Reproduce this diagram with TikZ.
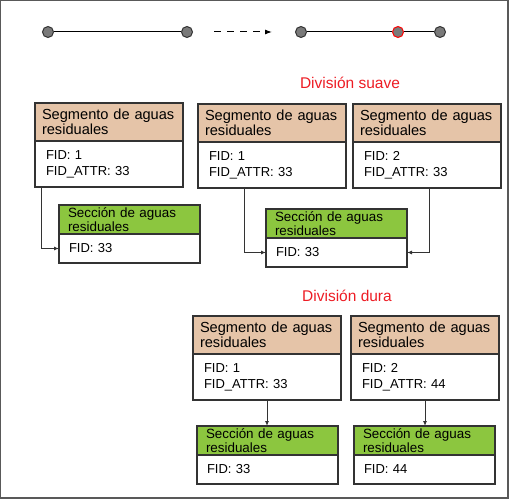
\documentclass[tikz,border=0pt]{standalone}
\usepackage{fontspec}
\setmainfont{Liberation Sans}
\usetikzlibrary{arrows.meta,positioning,calc}
\definecolor{segtan}{HTML}{E5C4A8}
\definecolor{secgreen}{HTML}{8CC63F}
\definecolor{boxline}{HTML}{333333}
\definecolor{vtxgray}{HTML}{7A7A7A}
\definecolor{titlered}{HTML}{ED1C24}

\begin{document}
\begin{tikzpicture}[x=1bp, y=-1bp,
  box/.style={draw=boxline, line width=1.3bp, rectangle, outer sep=0pt, inner ysep=0pt, align=left},
  seghead/.style={box, fill=segtan, anchor=north west, inner xsep=7bp, text width=134bp, minimum height=38bp, font=\fontsize{14.6bp}{15bp}\selectfont},
  segbody/.style={box, fill=white, below=0pt of #1, inner xsep=11bp, text width=126bp, minimum height=46bp, font=\fontsize{13bp}{16bp}\selectfont},
  sechead/.style={box, fill=secgreen, anchor=north west, inner xsep=9bp, text width=123bp, minimum height=29bp, font=\fontsize{13.4bp}{12bp}\selectfont},
  secbody/.style={box, fill=white, below=0pt of #1, inner xsep=10bp, text width=121bp, minimum height=29bp, font=\fontsize{13bp}{15bp}\selectfont},
  vtx/.style={circle, draw=boxline, fill=vtxgray, line width=1bp, minimum size=11bp, inner sep=0pt},
  redtitle/.style={text=titlered, font=\fontsize{15.5bp}{16bp}\selectfont},
  arr/.style={-{Latex[length=5bp,width=4bp]}, line width=0.9bp, draw=boxline},
]
\useasboundingbox (0,0) rectangle (511,499);
\draw[draw=gray!70!black, line width=1.2bp] (0.6,0.6) rectangle (508,498);

% top line, before and after
\node[vtx] (p1) at (48,32) {};
\node[vtx] (p2) at (187,32) {};
\node[vtx] (q1) at (301,32) {};
\node[vtx, draw=red] (q2) at (398,32) {};
\node[vtx] (q3) at (440,32) {};
\coordinate (d1) at (214,32);
\coordinate (d2) at (272,32);
\draw[line width=1bp] (p1) -- (p2);
\draw[line width=1bp] (q1) -- (q2);
\draw[line width=1bp] (q2) -- (q3);
\draw[-{Latex[length=7bp,width=5bp]}, line width=1bp, dash pattern=on 7bp off 6bp] (d1) -- (d2);

% original
\node[seghead] (seg1h) at (35,103) {Segmento de aguas\\residuales};
\node[segbody=seg1h] (seg1b) {FID: 1\\FID\_ATTR: 33};
\node[sechead] (sec1h) at (59,205) {Secci\'on de aguas\\residuales};
\node[secbody=sec1h] (sec1b) {FID: 33};
\draw[arr] ($(seg1b.south west)+(6,0)$) |- (sec1b.west);

% soft split
\node[redtitle] (suave) at (350,83) {División suave};
\node[seghead] (seg2h) at (198,104) {Segmento de aguas\\residuales};
\node[segbody=seg2h] (seg2b) {FID: 1\\FID\_ATTR: 33};
\node[seghead] (seg3h) at (353,104) {Segmento de aguas\\residuales};
\node[segbody=seg3h] (seg3b) {FID: 2\\FID\_ATTR: 33};
\node[sechead] (sec2h) at (266,209) {Secci\'on de aguas\\residuales};
\node[secbody=sec2h] (sec2b) {FID: 33};
\draw[arr] ($(seg2b.south west)+(46,0)$) |- (sec2b.west);
\draw[arr] ($(seg3b.south west)+(76,0)$) |- (sec2b.east);

% hard split
\node[redtitle] (dura) at (347,296) {División dura};
\node[seghead] (seg4h) at (193,316) {Segmento de aguas\\residuales};
\node[segbody=seg4h] (seg4b) {FID: 1\\FID\_ATTR: 33};
\node[seghead] (seg5h) at (351,316) {Segmento de aguas\\residuales};
\node[segbody=seg5h] (seg5b) {FID: 2\\FID\_ATTR: 44};
\node[sechead] (sec3h) at (197,426) {Secci\'on de aguas\\residuales};
\node[secbody=sec3h] (sec3b) {FID: 33};
\node[sechead] (sec4h) at (354,426) {Secci\'on de aguas\\residuales};
\node[secbody=sec4h] (sec4b) {FID: 44};
\draw[arr] (seg4b.south) -- (seg4b.south |- sec3h.north);
\draw[arr] (seg5b.south) -- (seg5b.south |- sec4h.north);
\end{tikzpicture}
\end{document}
